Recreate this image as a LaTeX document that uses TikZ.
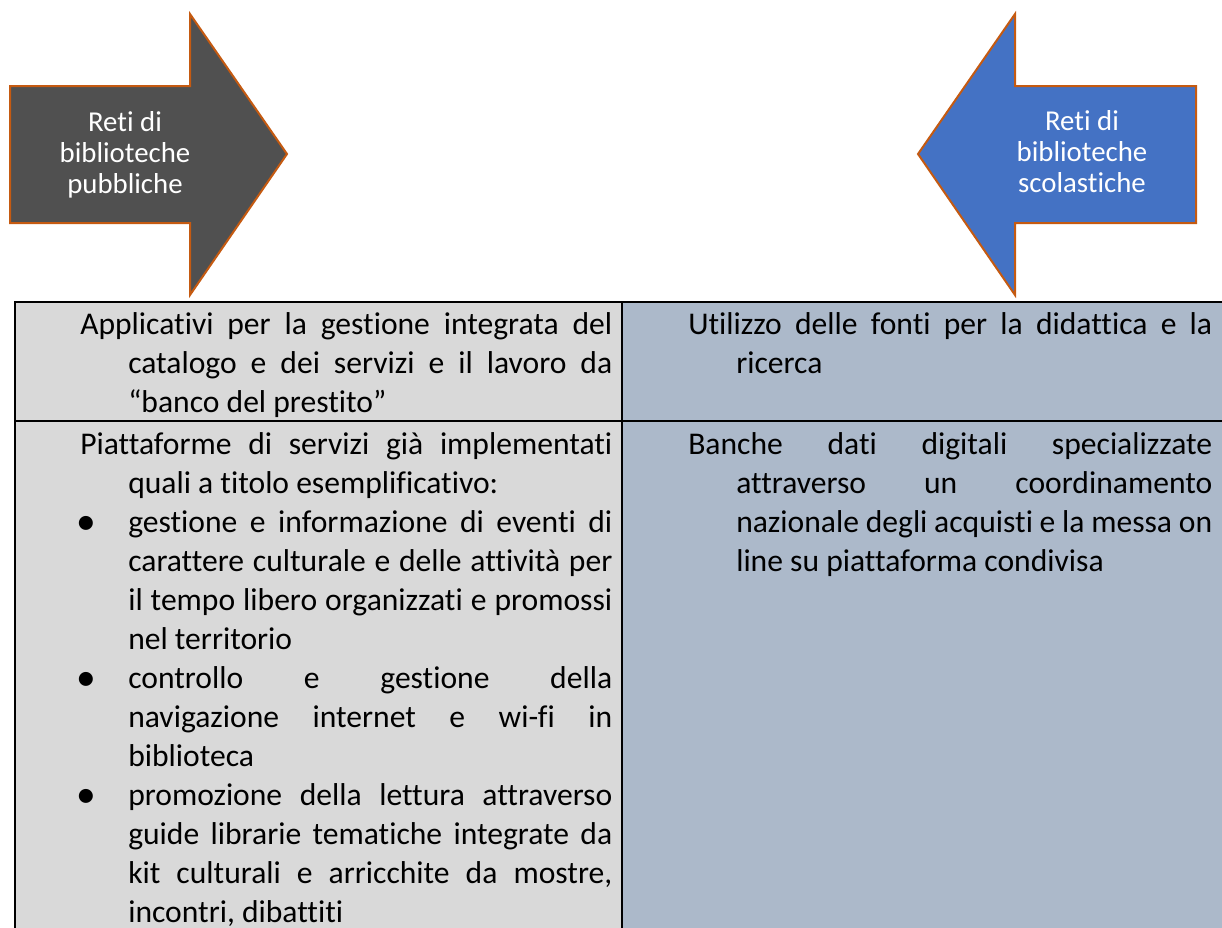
\documentclass[tikz,border=0pt]{standalone}
\usepackage{fontspec}
\setmainfont{Carlito}[Ligatures=NoCommon]
\definecolor{darkarrow}{HTML}{505050}
\definecolor{bluearrow}{HTML}{4472C4}
\definecolor{orangeline}{HTML}{C55A11}
\definecolor{leftcell}{HTML}{D9D9D9}
\definecolor{rightcell}{HTML}{ACB9CA}
\newcommand\jlin[2]{\hbox to #1{#2}}
\newcommand\llin[2]{\hbox to #1{#2\hfil}}
\newcommand\indl[1]{\hbox{\hskip36pt #1}}
\newcommand\bull[1]{\hbox{\hbox to 36pt{\hskip4.5pt\makebox[0pt]{\raisebox{-1.5pt}{\scalebox{1.25}{\textbullet}}}\hfil}#1}}
\newcommand\cellsetup{\baselineskip=29.29pt\lineskip=0pt\lineskiplimit=-100pt}
\tikzset{
  arrowshape/.style={draw=orangeline, line width=1.5pt, line join=miter},
  arrowtext/.style={text=white, align=center, inner sep=0pt, font=\fontsize{21.6pt}{23.25pt}\selectfont},
  celltext/.style={anchor=base west, inner sep=0pt, font=\fontsize{23.7pt}{29.29pt}\selectfont},
  tablerule/.style={draw=black, line width=1.4pt}
}
\begin{document}
\begin{tikzpicture}[x=0.75pt, y=-0.75pt]
\useasboundingbox (0,0) rectangle (1222,928);
% arrows
\path[arrowshape, fill=darkarrow] (10,86) -- (190,86) -- (190,14) -- (287,154) -- (190,295) -- (190,223) -- (10,223) -- cycle;
\path[arrowshape, fill=bluearrow] (1196,86) -- (1015,86) -- (1015,14) -- (918,154) -- (1015,295) -- (1015,223) -- (1196,223) -- cycle;
\node[arrowtext] (pub) at (125,155) {Reti di\\biblioteche\\pubbliche};
\node[arrowtext] (scol) at (1082,152) {Reti di\\biblioteche\\scolastiche};
% table
\fill[leftcell] (15,302) rectangle (622,940);
\fill[rightcell] (622,302) rectangle (1240,940);
\draw[tablerule] (15,940) -- (15,302) -- (1240,302);
\draw[tablerule] (15,421) -- (1240,421);
\draw[tablerule] (622,302) -- (622,940);
% cell texts
\node[celltext] (l1) at (80,334) {\vtop{\cellsetup
  \jlin{399pt}{Applicativi per la gestione integrata del}
  \indl{\jlin{363pt}{catalogo e dei servizi e il lavoro da}}
  \indl{\llin{363pt}{“banco del prestito”}}}};
\node[celltext] (l2) at (80,454) {\vtop{\cellsetup
  \jlin{399pt}{Piattaforme di servizi già implementati}
  \indl{\llin{363pt}{quali a titolo esemplificativo:}}
  \bull{\jlin{363pt}{gestione e informazione di eventi di}}
  \indl{\jlin{363pt}{carattere culturale e delle attività per}}
  \indl{\jlin{363pt}{il tempo libero organizzati e promossi}}
  \indl{\llin{363pt}{nel territorio}}
  \bull{\jlin{363pt}{controllo e gestione della}}
  \indl{\jlin{363pt}{navigazione internet e wi-fi in}}
  \indl{\llin{363pt}{biblioteca}}
  \bull{\jlin{363pt}{promozione della lettura attraverso}}
  \indl{\jlin{363pt}{guide librarie tematiche integrate da}}
  \indl{\jlin{363pt}{kit culturali e arricchite da mostre,}}
  \indl{\llin{363pt}{incontri, dibattiti}}}};
\node[celltext] (r1) at (688,334) {\vtop{\cellsetup
  \jlin{393pt}{Utilizzo delle fonti per la didattica e la}
  \indl{\llin{357pt}{ricerca}}}};
\node[celltext] (r2) at (688,454) {\vtop{\cellsetup
  \jlin{393pt}{Banche dati digitali specializzate}
  \indl{\jlin{357pt}{attraverso un coordinamento}}
  \indl{\jlin{357pt}{nazionale degli acquisti e la messa on}}
  \indl{\llin{357pt}{line su piattaforma condivisa}}}};
\end{tikzpicture}
\end{document}
